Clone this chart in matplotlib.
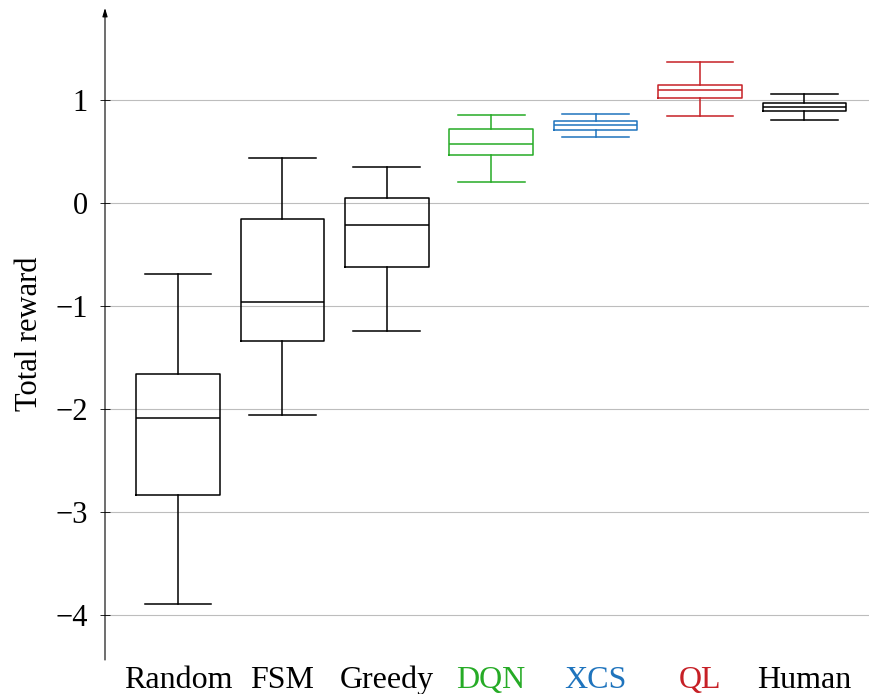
import matplotlib
matplotlib.use("Agg")
import matplotlib.pyplot as plt

plt.rcParams["font.family"] = ["Liberation Serif", "DejaVu Serif"]

# ── data ─────────────────────────────────────────────────────────────────────
AGENTS   = ["Random", "FSM", "Greedy", "DQN", "XCS", "QL", "Human"]
WHIS_LO  = [-3.89, -2.06, -1.24, 0.21, 0.64, 0.85, 0.81]
Q1       = [-2.83, -1.34, -0.62, 0.47, 0.71, 1.02, 0.90]
MEDIAN   = [-2.08, -0.96, -0.21, 0.58, 0.76, 1.10, 0.94]
Q3       = [-1.66, -0.155, 0.054, 0.72, 0.80, 1.15, 0.97]
WHIS_HI  = [-0.69, 0.44, 0.356, 0.86, 0.87, 1.37, 1.06]
Y_TICKS  = [-4, -3, -2, -1, 0, 1]

COLORS = ["black", "black", "black", "#26ab26", "#1f74bd", "#c62026", "black"]

stats = [dict(label=a, whislo=lo, q1=q1, med=m, q3=q3, whishi=hi, fliers=[])
         for a, lo, q1, m, q3, hi in zip(AGENTS, WHIS_LO, Q1, MEDIAN, Q3, WHIS_HI)]

fig = plt.figure(figsize=(8.69, 6.94), dpi=100)
ax = fig.add_axes([105 / 869, 34 / 694, 1 - 105 / 869, 652 / 694])

pos = list(range(1, len(AGENTS) + 1))
lw = 1.1
bp = ax.bxp(stats, positions=pos, widths=0.8, capwidths=0.64, showfliers=False,
            boxprops=dict(lw=lw), whiskerprops=dict(lw=lw), capprops=dict(lw=lw),
            medianprops=dict(lw=lw), manage_ticks=False)

for i, c in enumerate(COLORS):
    bp["boxes"][i].set_color(c)
    bp["medians"][i].set_color(c)
    for k in (2 * i, 2 * i + 1):
        bp["whiskers"][k].set_color(c)
        bp["caps"][k].set_color(c)

ax.set_xlim(0.30, 7.62)
ax.set_ylim(-4.435, 1.897)

ax.set_xticks(pos)
ax.set_xticklabels(AGENTS, fontsize=23)
for lbl, c in zip(ax.get_xticklabels(), COLORS):
    lbl.set_color(c)
ax.tick_params(axis="x", length=0, pad=4)

ax.set_yticks(Y_TICKS)
ax.tick_params(axis="y", direction="inout", length=7, width=0.6, labelsize=22, pad=9)
ax.yaxis.grid(True, color="#bdbdbd", lw=0.8)
ax.set_axisbelow(True)

for s in ax.spines.values():
    s.set_visible(False)
ax.annotate("", xy=(0, 1), xytext=(0, 0), xycoords="axes fraction",
            arrowprops=dict(arrowstyle="-|>,head_length=0.5,head_width=0.15",
                            lw=0.8, color="black", shrinkA=0, shrinkB=0))

ax.set_ylabel("Total reward", fontsize=22, labelpad=8)

fig.savefig("out.png", dpi=100)
